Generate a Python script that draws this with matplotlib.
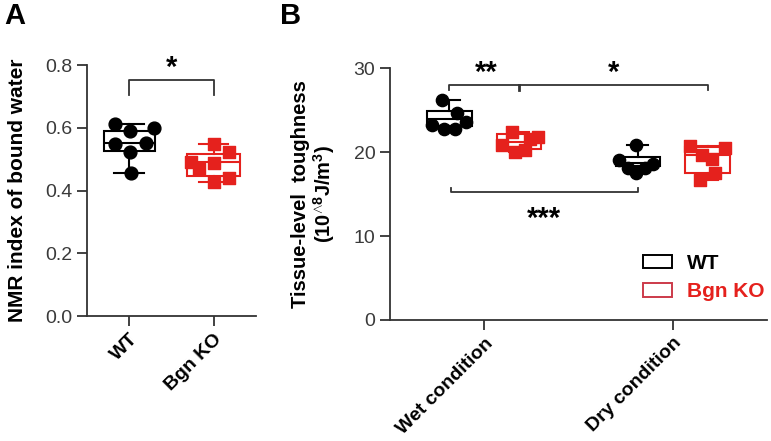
import numpy as np
import matplotlib
matplotlib.use("Agg")
import matplotlib.pyplot as plt
from matplotlib.patches import Rectangle

plt.rcParams['font.family'] = ['Liberation Sans', 'DejaVu Sans']
plt.rcParams['mathtext.fontset'] = 'custom'
plt.rcParams['mathtext.rm'] = 'Liberation Sans:bold'
plt.rcParams['mathtext.it'] = 'Liberation Sans:bold'

# ---- data ----
# Panel A: NMR index of bound water
a_groups = ['WT', 'Bgn KO']
a_wt = [0.612, 0.59, 0.599, 0.548, 0.551, 0.523, 0.456]
a_ko = [0.548, 0.523, 0.49, 0.488, 0.47, 0.44, 0.427]
# box stats (q1, median, q3, min, max)
a_wt_box = [0.527, 0.551, 0.59, 0.456, 0.612]
a_ko_box = [0.446, 0.49, 0.516, 0.427, 0.548]

# Panel B: tissue-level toughness
b_conditions = ['Wet condition', 'Dry condition']
b_wt_wet = [26.2, 24.7, 23.6, 23.2, 22.7, 22.7]
b_ko_wet = [22.4, 20.8, 20.0, 20.2, 21.6, 21.8]
b_wt_dry = [20.8, 19.1, 18.6, 18.1, 17.5, 18.1]
b_ko_dry = [20.7, 20.5, 19.6, 19.2, 17.5, 16.7]
b_wt_wet_box = [23.1, 24.0, 24.9, 22.7, 26.2]
b_ko_wet_box = [20.4, 21.2, 22.2, 20.0, 22.4]
b_wt_dry_box = [18.3, 18.7, 19.4, 17.5, 20.8]
b_ko_dry_box = [17.5, 19.6, 20.6, 16.7, 20.7]

# horizontal scatter of the dots (layout only)
a_wt_jit = [-0.17, 0.01, 0.29, -0.17, 0.2, 0.01, 0.02]
a_ko_jit = [0.0, 0.18, -0.27, 0.0, -0.17, 0.18, 0.0]
b_wt_wet_jit = [-0.04, 0.04, 0.09, -0.09, -0.03, 0.03]
b_ko_wet_jit = [-0.04, -0.09, -0.02, 0.03, 0.06, 0.1]
b_wt_dry_jit = [-0.01, -0.1, 0.08, -0.05, -0.01, 0.04]
b_ko_dry_jit = [-0.095, 0.09, -0.03, 0.025, 0.04, -0.04]

RED = '#e5211d'
AXC = '#333333'


def stats(b):
    return dict(q1=b[0], med=b[1], q3=b[2], whislo=b[3], whishi=b[4], fliers=[])


def draw_box(ax, box, pos, width, color, capw):
    ax.bxp([stats(box)], positions=[pos], widths=width, capwidths=capw,
           patch_artist=True, showfliers=False, manage_ticks=False,
           boxprops=dict(facecolor='white', edgecolor=color, linewidth=1.5),
           medianprops=dict(color=color, linewidth=1.5),
           whiskerprops=dict(color=color, linewidth=1.5),
           capprops=dict(color=color, linewidth=1.5))


def style_axes(ax):
    for s in ['top', 'right']:
        ax.spines[s].set_visible(False)
    for s in ['left', 'bottom']:
        ax.spines[s].set_color(AXC)
        ax.spines[s].set_linewidth(1.3)
    ax.tick_params(axis='both', direction='out', length=7, width=1.3,
                   color=AXC, labelsize=14, labelcolor='#3a3a3a')
    ax.tick_params(axis='x', labelcolor='black')


fig = plt.figure(figsize=(7.71, 4.41), dpi=100)

# ---------------- Panel A ----------------
axA = fig.add_axes([0.1128, 0.2834, 0.219, 0.569])
draw_box(axA, a_wt_box, 0, 0.6, 'black', 0.35)
draw_box(axA, a_ko_box, 1, 0.62, RED, 0.35)
axA.scatter(np.array(a_wt_jit) + 0, a_wt, s=85, marker='o', color='black', zorder=5)
axA.scatter(np.array(a_ko_jit) + 1, a_ko, s=80, marker='s', color=RED, zorder=5)
axA.set_xlim(-0.5, 1.5)
axA.set_ylim(0, 0.8)
axA.set_yticks([0.0, 0.2, 0.4, 0.6, 0.8])
axA.set_yticklabels(['0.0', '0.2', '0.4', '0.6', '0.8'])
axA.set_xticks([0, 1])
axA.set_xticklabels(a_groups, rotation=45, ha='right', rotation_mode='anchor',
                    fontweight='bold', fontsize=14)
style_axes(axA)
axA.set_ylabel('NMR index of bound water', fontweight='bold', fontsize=15)
axA.yaxis.set_label_coords(-0.355, 0.5)
# significance bracket
axA.plot([0, 0, 1, 1], [0.704, 0.752, 0.752, 0.704], color=AXC, lw=1.3, clip_on=False)
axA.text(0.5, 0.766, '*', ha='center', va='baseline', fontsize=21, fontweight='bold')

# ---------------- Panel B ----------------
axB = fig.add_axes([0.5058, 0.2744, 0.489, 0.571])
off = 0.185
groups_b = [(b_wt_wet, b_wt_wet_box, b_wt_wet_jit, 0 - off, 'black', 'o'),
            (b_ko_wet, b_ko_wet_box, b_ko_wet_jit, 0 + off, RED, 's'),
            (b_wt_dry, b_wt_dry_box, b_wt_dry_jit, 1 - off, 'black', 'o'),
            (b_ko_dry, b_ko_dry_box, b_ko_dry_jit, 1 + off, RED, 's')]
for vals, box, jit, pos, col, mk in groups_b:
    draw_box(axB, box, pos, 0.235, col, 0.11)
    axB.scatter(np.array(jit) + pos, vals, s=78, marker=mk, color=col, zorder=5)
axB.set_xlim(-0.5, 1.5)
axB.set_ylim(0, 30)
axB.set_yticks([0, 10, 20, 30])
axB.set_xticks([0, 1])
axB.set_xticklabels(b_conditions, rotation=45, ha='right', rotation_mode='anchor',
                    fontweight='bold', fontsize=14)
style_axes(axB)
axB.set_ylabel('Tissue-level  toughness\n(10$^{\\wedge 8}$J/m$^{3}$)',
               fontweight='bold', fontsize=14.5, linespacing=1.05)
axB.yaxis.set_label_coords(-0.14, 0.5)

# brackets
axB.plot([-off, -off, 1 + off, 1 + off], [27.4, 28.0, 28.0, 27.4], color=AXC, lw=1.3)
axB.plot([off, off], [28.0, 27.4], color=AXC, lw=2.0)
axB.text(0.01, 28.5, '**', ha='center', va='baseline', fontsize=21, fontweight='bold',
         clip_on=False)
axB.text(0.688, 28.5, '*', ha='center', va='baseline', fontsize=21, fontweight='bold',
         clip_on=False)
axB.plot([-off + 0.01, -off + 0.01, 1 - off, 1 - off], [15.7, 15.2, 15.2, 15.7],
         color=AXC, lw=1.3)
axB.text(0.317, 11.1, '***', ha='center', va='baseline', fontsize=21, fontweight='bold')

# legend
handles = [Rectangle((0, 0), 1, 1, facecolor='white', edgecolor='black', lw=1.4),
           Rectangle((0, 0), 1, 1, facecolor='white', edgecolor='#cc3a4a', lw=1.4)]
leg = axB.legend(handles, a_groups, loc='lower left', bbox_to_anchor=(0.671, 0.075),
                 frameon=False, borderpad=0, borderaxespad=0,
                 handlelength=1.4, handleheight=0.62,
                 handletextpad=0.7, labelspacing=0.45,
                 prop=dict(weight='bold', size=15))
leg.get_texts()[1].set_color(RED)

# panel letters
fig.text(0.005, 0.995, 'A', ha='left', va='top', fontsize=21, fontweight='bold')
fig.text(0.363, 0.995, 'B', ha='left', va='top', fontsize=21, fontweight='bold')

fig.savefig('out.png', dpi=100)
